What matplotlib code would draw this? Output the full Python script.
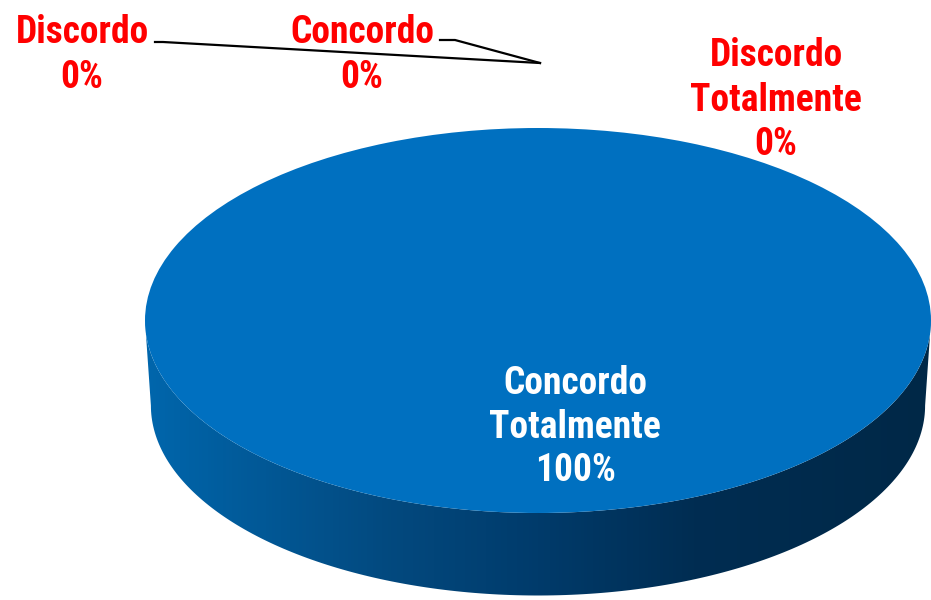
import numpy as np
import matplotlib
matplotlib.use("Agg")
import matplotlib.pyplot as plt
from matplotlib.colors import LinearSegmentedColormap
from matplotlib.patches import Polygon

# data
categories = ["Concordo Totalmente", "Discordo Totalmente", "Concordo", "Discordo"]
values = [100, 0, 0, 0]

W, H = 931, 600
# pie geometry in pixels (top-left origin)
cx, cy = 538, 320.5
rx, ry = 393, 192.5
depth = 85


def px(x, y):
    # pixel (top-left origin) -> data coords
    return (x - cx) / rx, (cy - y) / ry


fig = plt.figure(figsize=(W / 100, H / 100), dpi=100)
ax = fig.add_axes([0, 0, 1, 1])

# side of the 3D pie, gradient clipped to the rim outline
t = np.linspace(np.pi, 2 * np.pi, 200)
top_x, top_y = np.cos(t), np.sin(t)
bx, by = 0.985, 0.987
bot_x = bx * np.cos(t[::-1])
bot_y = by * np.sin(t[::-1]) - depth / ry
rim = np.column_stack([np.r_[top_x, bot_x], np.r_[top_y, bot_y]])
rim_patch = Polygon(rim, closed=True, facecolor="none", edgecolor="none")
ax.add_patch(rim_patch)

side_cmap = LinearSegmentedColormap.from_list(
    "side", [(0.0, "#0066ac"), (0.3, "#034a80"), (0.5, "#003b6b"),
             (0.7, "#002d52"), (1.0, "#002847")])
grad = np.linspace(0, 1, 256).reshape(1, -1)
img = ax.imshow(grad, cmap=side_cmap, extent=(-1, 1, -1 - depth / ry, 0.2),
                aspect="auto", zorder=1, interpolation="bilinear")
img.set_clip_path(rim_patch)

# top face
wedges, _ = ax.pie(values, colors=["#0070C0"] * len(values), startangle=90,
                   counterclock=False, radius=1, center=(0, 0),
                   wedgeprops=dict(linewidth=0, antialiased=True))
for w in wedges:
    w.set_zorder(2)

x0, y1 = px(0, 0)
x1, y0 = px(W, H)
ax.set_xlim(x0, x1)
ax.set_ylim(y0, y1)
ax.set_aspect("auto")
ax.axis("off")

fnt = ["Roboto Condensed", "DejaVu Sans"]


def label(i):
    return categories[i].replace(" ", "\n") + "\n" + f"{values[i]}%"


# main slice label
ax.text(*px(575, 427), label(0), color="white", fontsize=27, fontweight="bold",
        family=fnt, ha="center", va="center", linespacing=1.22, zorder=5)

# zero-value labels
ax.text(*px(776, 100), label(1), color="#FF0000", fontsize=27, fontweight="bold",
        family=fnt, ha="center", va="center", linespacing=1.25, zorder=5)
ax.text(*px(362, 55), label(2), color="#FF0000", fontsize=27, fontweight="bold",
        family=fnt, ha="center", va="center", linespacing=1.25, zorder=5)
ax.text(*px(82, 55), label(3), color="#FF0000", fontsize=27, fontweight="bold",
        family=fnt, ha="center", va="center", linespacing=1.25, zorder=5)

# leader lines
tip = (540, 63)
for pts in ([(155, 42), (163, 42), tip], [(440, 40), (455, 40), tip]):
    xs, ys = zip(*[px(*p) for p in pts])
    ax.plot(xs, ys, color="black", linewidth=1.6, zorder=4)

fig.savefig("out.png", dpi=100)
